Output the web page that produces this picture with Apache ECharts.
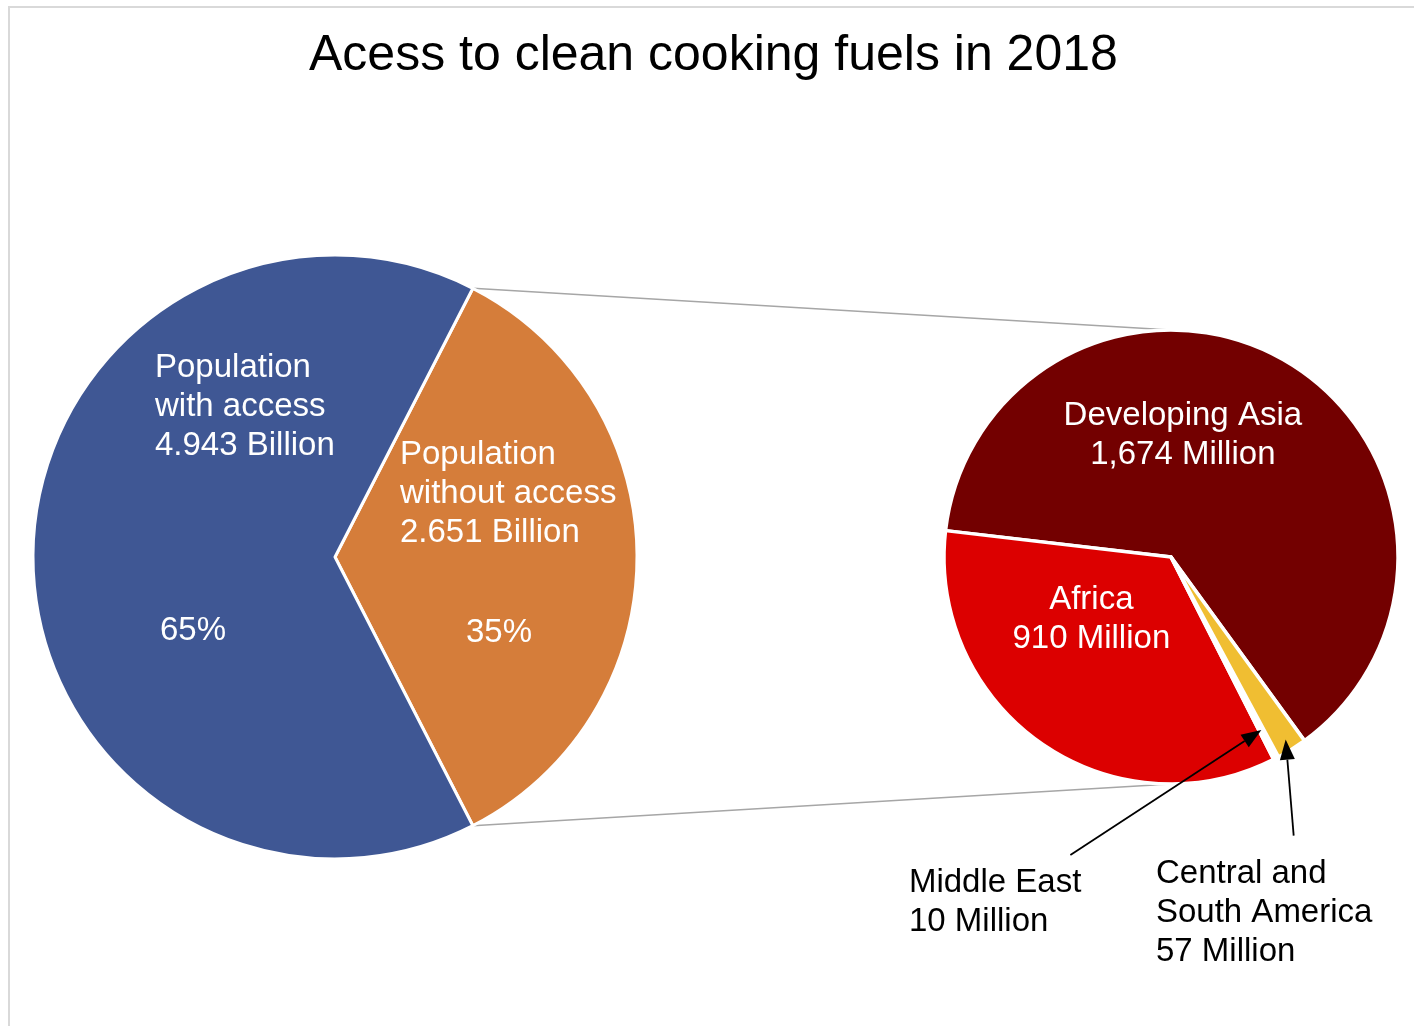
<!DOCTYPE html>
<html>
<head>
<meta charset="utf-8">
<script src="https://cdn.jsdelivr.net/npm/echarts@6/dist/echarts.min.js"></script>
<style>
html,body{margin:0;padding:0;background:#ffffff;}
#c{width:1414px;height:1026px;}
</style>
</head>
<body>
<div id="c"></div>
<script>
// ---- data ----
const titleText = 'Acess to clean cooking fuels in 2018';
const mainNames = ['Population without access', 'Population with access'];
const mainValues = [2.651, 4.943]; // billion
const mainLabelText = ['Population\nwithout access\n2.651 Billion', 'Population\nwith access\n4.943 Billion'];
const subNames = ['Developing Asia', 'Africa', 'Middle East', 'Central and South America'];
const subValues = [1674, 910, 10, 57]; // million
const subLabelText = ['Developing Asia\n1,674 Million', 'Africa\n910 Million', 'Middle East\n10 Million', 'Central and\nSouth America\n57 Million'];

// ---- styles ----
const mainColors = ['#D57D3A', '#3F5794'];
const subColors = ['#730000', '#DC0000', '#FFFFFF', '#F0BE32'];
const FONT = '"Liberation Sans", Arial, Helvetica, sans-serif';

const mainTotal = mainValues.reduce((a, b) => a + b, 0);
const mainStart = mainValues[0] / mainTotal * 180;

// label offsets relative to the library's inside anchor
const mainNameShift = [{dx: -89, dy: -63}, {dx: -26, dy: -150}];
const mainPctShift = [{dx: 10, dy: 76}, {dx: 12, dy: 74}];
const subShift = [
  {dx: -47, dy: -21, align: 'center', color: '#ffffff'},
  {dx: -13, dy: -33, align: 'center', color: '#ffffff'},
  {dx: -316, dy: 242, align: 'left', color: '#000000'},
  {dx: -77, dy: 257, align: 'left', color: '#000000'}
];

const chart = echarts.init(document.getElementById('c'), null, {renderer: 'canvas'});

const option = {
  animation: false,
  backgroundColor: '#ffffff',
  title: {
    text: titleText,
    left: 309,
    top: 31,
    padding: 0,
    textStyle: {fontFamily: FONT, fontSize: 50, fontWeight: 'normal', color: '#000000'}
  },
  series: [
    {
      type: 'pie',
      center: [335, 557],
      radius: [0, 302],
      startAngle: mainStart,
      clockwise: true,
      silent: true,
      itemStyle: {borderColor: '#ffffff', borderWidth: 3},
      label: {
        show: true, position: 'inside', color: '#ffffff',
        fontFamily: FONT, fontSize: 33, lineHeight: 39,
        formatter: p => mainLabelText[p.dataIndex]
      },
      labelLine: {show: false},
      labelLayout: p => Object.assign({align: 'left'}, mainNameShift[p.dataIndex]),
      data: mainNames.map((n, i) => ({name: n, value: mainValues[i], itemStyle: {color: mainColors[i]}}))
    },
    {
      type: 'pie',
      center: [335, 557],
      radius: [0, 302],
      startAngle: mainStart,
      clockwise: true,
      silent: true,
      percentPrecision: 0,
      itemStyle: {color: 'rgba(0,0,0,0)', borderWidth: 0},
      label: {
        show: true, position: 'inside', color: '#ffffff',
        fontFamily: FONT, fontSize: 33,
        formatter: '{d}%'
      },
      labelLine: {show: false},
      labelLayout: p => Object.assign({align: 'center'}, mainPctShift[p.dataIndex]),
      data: mainNames.map((n, i) => ({name: n, value: mainValues[i]}))
    },
    {
      type: 'pie',
      center: [1171, 557],
      radius: [0, 227],
      startAngle: 306,
      clockwise: false,
      silent: true,
      itemStyle: {borderColor: '#ffffff', borderWidth: 3.5},
      label: {
        show: true, position: 'inside',
        fontFamily: FONT, fontSize: 33, lineHeight: 39,
        formatter: p => subLabelText[p.dataIndex]
      },
      labelLine: {show: false},
      labelLayout: p => ({dx: subShift[p.dataIndex].dx, dy: subShift[p.dataIndex].dy, align: subShift[p.dataIndex].align}),
      data: subNames.map((n, i) => ({
        name: n, value: subValues[i],
        itemStyle: {color: subColors[i]},
        label: {color: subShift[i].color}
      }))
    }
  ]
};
chart.setOption(option);

// ---- connectors & arrows derived from the library's pie layouts ----
const model = chart.getModel();
const mainData = model.getSeriesByIndex(0).getData();
const subData = model.getSeriesByIndex(2).getData();
const L = mainData.getItemLayout(0);
const S = subData.getItemLayout(0);
const pt = (lay, ang, rr) => [lay.cx + rr * Math.cos(ang), lay.cy + rr * Math.sin(ang)];
const a1 = Math.min(L.startAngle, L.endAngle), a2 = Math.max(L.startAngle, L.endAngle);
const pTop = pt(L, a1, L.r), pBot = pt(L, a2, L.r);

const zr = chart.getZr();
const G = echarts.graphic;
function add(el) { zr.add(el); }

add(new G.Rect({z: -10, shape: {x: 9, y: 7, width: 1440, height: 1060}, style: {fill: 'none', stroke: '#d9d9d9', lineWidth: 2}}));
add(new G.Line({z: -5, shape: {x1: pTop[0], y1: pTop[1], x2: S.cx, y2: S.cy - S.r}, style: {stroke: '#a6a6a6', lineWidth: 1.6}}));
add(new G.Line({z: -5, shape: {x1: pBot[0], y1: pBot[1], x2: S.cx, y2: S.cy + S.r}, style: {stroke: '#a6a6a6', lineWidth: 1.6}}));

function arrow(tip, tail) {
  const dx = tip[0] - tail[0], dy = tip[1] - tail[1];
  const len = Math.sqrt(dx * dx + dy * dy);
  const ux = dx / len, uy = dy / len;
  const hl = 20, hw = 7.5;
  const bx = tip[0] - ux * hl, by = tip[1] - uy * hl;
  add(new G.Line({z: 100, shape: {x1: tail[0], y1: tail[1], x2: bx, y2: by}, style: {stroke: '#000', lineWidth: 1.8}}));
  add(new G.Polygon({z: 100, shape: {points: [tip, [bx - uy * hw, by + ux * hw], [bx + uy * hw, by - ux * hw]]}, style: {fill: '#000'}}));
}
const me = subData.getItemLayout(2), csa = subData.getItemLayout(3);
const meTip = pt(me, (me.startAngle + me.endAngle) / 2, me.r * 0.86);
const csaTip = pt(csa, (csa.startAngle + csa.endAngle) / 2, csa.r * 0.95);
arrow(meTip, [meTip[0] - 191, meTip[1] + 125]);
arrow(csaTip, [csaTip[0] + 8, csaTip[1] + 96]);
</script>
</body>
</html>
